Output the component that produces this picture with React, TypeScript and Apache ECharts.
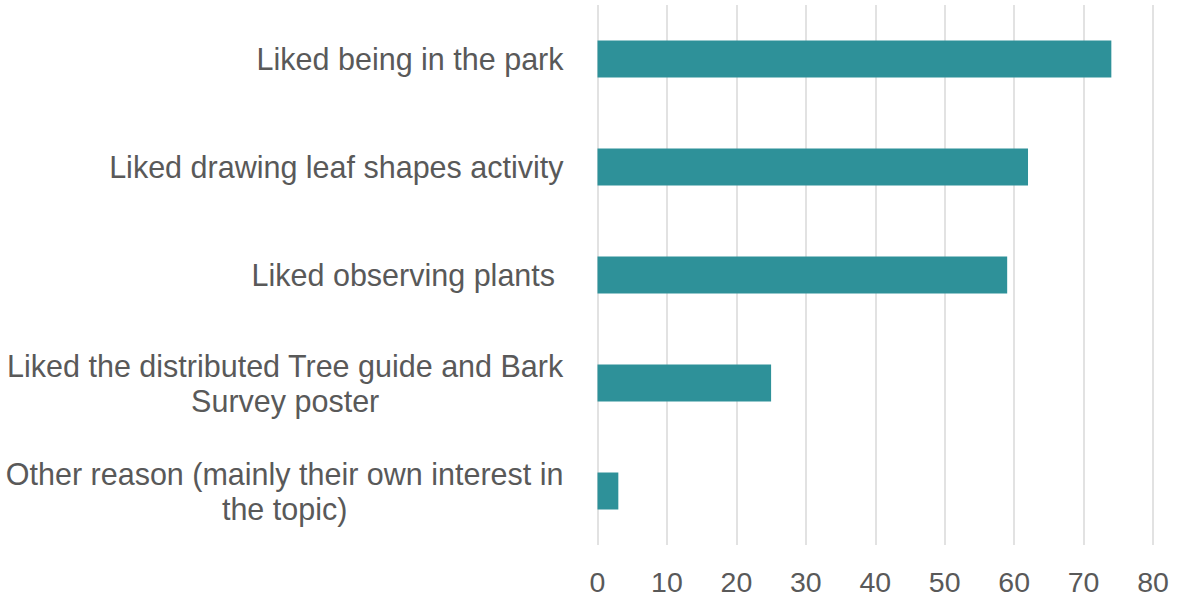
import React, { useEffect, useRef } from "react";
import * as echarts from "echarts";

const categories = [
  "Liked being in the park",
  "Liked drawing leaf shapes activity",
  "Liked observing plants ",
  "Liked the distributed Tree guide and Bark\nSurvey poster",
  "Other reason (mainly their own interest in\nthe topic)",
];
const values = [74, 62, 59, 25, 3];
const xTicks = { min: 0, max: 80, interval: 10 };

const FONT = "'Liberation Sans', Arial, Helvetica, sans-serif";
const TEXT = "#595959";

export default function App() {
  const ref = useRef<HTMLDivElement>(null);
  useEffect(() => {
    if (!ref.current) return;
    const chart = echarts.init(ref.current, null, { renderer: "svg" });
    chart.setOption({
      animation: false,
      backgroundColor: "#ffffff",
      grid: { left: 597.5, right: 26, top: 5, bottom: 55, containLabel: false },
      xAxis: {
        type: "value",
        min: xTicks.min,
        max: xTicks.max,
        interval: xTicks.interval,
        axisLine: { show: false },
        axisTick: { show: false },
        splitLine: { show: true, lineStyle: { color: "#d9d9d9", width: 1.5 } },
        axisLabel: { color: TEXT, fontSize: 28.5, fontFamily: FONT, margin: 22 },
      },
      yAxis: {
        type: "category",
        data: categories,
        inverse: true,
        axisLine: { show: false },
        axisTick: { show: false },
        splitLine: { show: false },
        axisLabel: {
          margin: 34,
          align: "right",
          formatter: (v: string) =>
            v
              .split("\n")
              .map((l) => `{c|${l}}`)
              .join("\n"),
          rich: {
            c: {
              align: "center",
              color: TEXT,
              fontSize: 30.5,
              fontFamily: FONT,
              lineHeight: 35,
            },
          },
        },
      },
      series: [
        {
          type: "bar",
          data: values,
          barWidth: 37,
          itemStyle: { color: "#2e9199" },
        },
      ],
    });
    return () => chart.dispose();
  }, []);
  return (
    <div
      ref={ref}
      style={{ position: "fixed", left: 0, top: 0, width: 1179, height: 600 }}
    />
  );
}
